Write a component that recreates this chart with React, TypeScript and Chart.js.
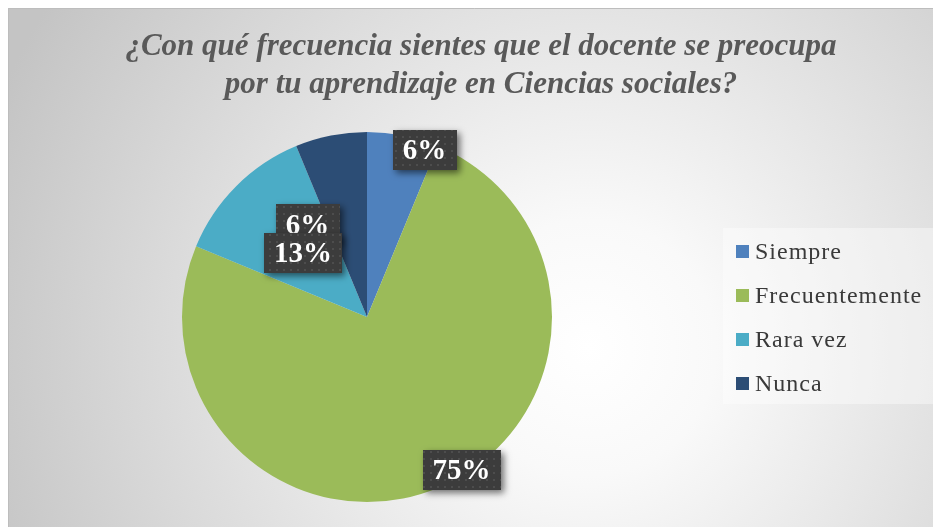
import React, { useEffect, useRef } from "react";
import { Chart, registerables } from "chart.js";

Chart.register(...registerables);

const TITLE_LINES = [
  "¿Con qué frecuencia sientes que el docente se preocupa",
  "por tu aprendizaje en Ciencias sociales?",
];
const categories = ["Siempre", "Frecuentemente", "Rara vez", "Nunca"];
const percentages = [6.25, 75, 12.5, 6.25];
const colors = ["#4F81BD", "#9BBB59", "#4BACC6", "#2C4D75"];

// label placement relative to each slice: radius fraction and angle shift (deg)
const labelPlacement = [
  { r: 0.955, da: 7.75 },
  { r: 0.97, da: -9.3 },
  { r: 0.49, da: 0 },
  { r: 0.595, da: -21.5 },
];

const W = 933;
const H = 519;

function makePattern(ctx: CanvasRenderingContext2D) {
  const c = document.createElement("canvas");
  c.width = 7;
  c.height = 7;
  const p = c.getContext("2d")!;
  p.fillStyle = "#3c3c3c";
  p.fillRect(0, 0, 7, 7);
  p.fillStyle = "#4d4d4d";
  p.fillRect(2, 2, 2, 2);
  return ctx.createPattern(c, "repeat");
}

const decorPlugin = {
  id: "decor",
  beforeDraw(chart: any) {
    const ctx = chart.ctx as CanvasRenderingContext2D;
    ctx.save();
    const g = ctx.createRadialGradient(580, 340, 0, 580, 340, 640);
    g.addColorStop(0, "#ffffff");
    g.addColorStop(0.2, "#f9f9f9");
    g.addColorStop(0.7, "#d8d8d8");
    g.addColorStop(1, "#c4c4c4");
    ctx.fillStyle = g;
    ctx.fillRect(0, 0, W, H);
    ctx.strokeStyle = "#bdbdbd";
    ctx.lineWidth = 1;
    ctx.beginPath();
    ctx.moveTo(0.5, H);
    ctx.lineTo(0.5, 0.5);
    ctx.lineTo(W, 0.5);
    ctx.stroke();

    // title
    ctx.fillStyle = "#595959";
    ctx.font = "italic bold 31px 'Liberation Serif'";
    ctx.textAlign = "center";
    ctx.textBaseline = "alphabetic";
    ctx.fillText(TITLE_LINES[0], 473, 47);
    ctx.fillText(TITLE_LINES[1], 473, 85);

    // legend
    ctx.fillStyle = "rgba(255,255,255,0.4)";
    ctx.fillRect(715, 220, 215, 176);
    ctx.font = "24px 'Liberation Serif'";
    (ctx as any).letterSpacing = "1px";
    ctx.textAlign = "left";
    categories.forEach((name, i) => {
      const base = 251 + i * 44;
      ctx.fillStyle = colors[i];
      ctx.fillRect(728, base - 14, 13, 13);
      ctx.fillStyle = "#3a3a3a";
      ctx.fillText(name, 747, base);
    });
    (ctx as any).letterSpacing = "0px";
    ctx.restore();
  },
  afterDatasetsDraw(chart: any) {
    const ctx = chart.ctx as CanvasRenderingContext2D;
    const meta = chart.getDatasetMeta(0);
    const data = chart.data.datasets[0].data as number[];
    const total = data.reduce((a, b) => a + b, 0);
    const pattern = makePattern(ctx);
    ctx.save();
    ctx.font = "bold 29px 'Liberation Serif'";
    const order = [0, 1, 3, 2];
    order.forEach((i) => {
      const arc = meta.data[i];
      const { x, y, startAngle, endAngle, outerRadius } = arc.getProps(
        ["x", "y", "startAngle", "endAngle", "outerRadius"],
        true
      );
      const pl = labelPlacement[i];
      const mid = (startAngle + endAngle) / 2 + (pl.da * Math.PI) / 180;
      const cx = x + Math.cos(mid) * outerRadius * pl.r;
      const cy = y + Math.sin(mid) * outerRadius * pl.r;
      const text = Math.round((data[i] / total) * 100) + "%";
      const tw = ctx.measureText(text).width;
      const bw = tw + 20;
      const bh = 40;
      ctx.save();
      ctx.shadowColor = "rgba(0,0,0,0.55)";
      ctx.shadowBlur = 7;
      ctx.shadowOffsetX = 3;
      ctx.shadowOffsetY = 3;
      ctx.fillStyle = pattern || "#3c3c3c";
      ctx.fillRect(Math.round(cx - bw / 2), Math.round(cy - bh / 2), Math.round(bw), bh);
      ctx.restore();
      ctx.fillStyle = "#ffffff";
      ctx.textAlign = "center";
      ctx.textBaseline = "middle";
      ctx.fillText(text, cx, cy + 2);
    });
    ctx.restore();
  },
};

export default function App() {
  const ref = useRef<HTMLCanvasElement | null>(null);
  useEffect(() => {
    document.body.style.overflow = "hidden";
    if (!ref.current) return;
    const chart = new Chart(ref.current, {
      type: "pie",
      data: {
        labels: categories,
        datasets: [
          {
            data: percentages,
            backgroundColor: colors,
            borderWidth: 0,
            hoverOffset: 0,
          },
        ],
      },
      options: {
        responsive: false,
        animation: false,
        events: [],
        layout: { padding: { left: 174, top: 124, right: 389, bottom: 25 } },
        plugins: {
          legend: { display: false },
          title: { display: false },
          tooltip: { enabled: false },
        },
      },
      plugins: [decorPlugin],
    });
    return () => chart.destroy();
  }, []);
  return (
    <canvas
      ref={ref}
      width={W}
      height={H}
      style={{ display: "block", width: W + "px", height: H + "px" }}
    />
  );
}
